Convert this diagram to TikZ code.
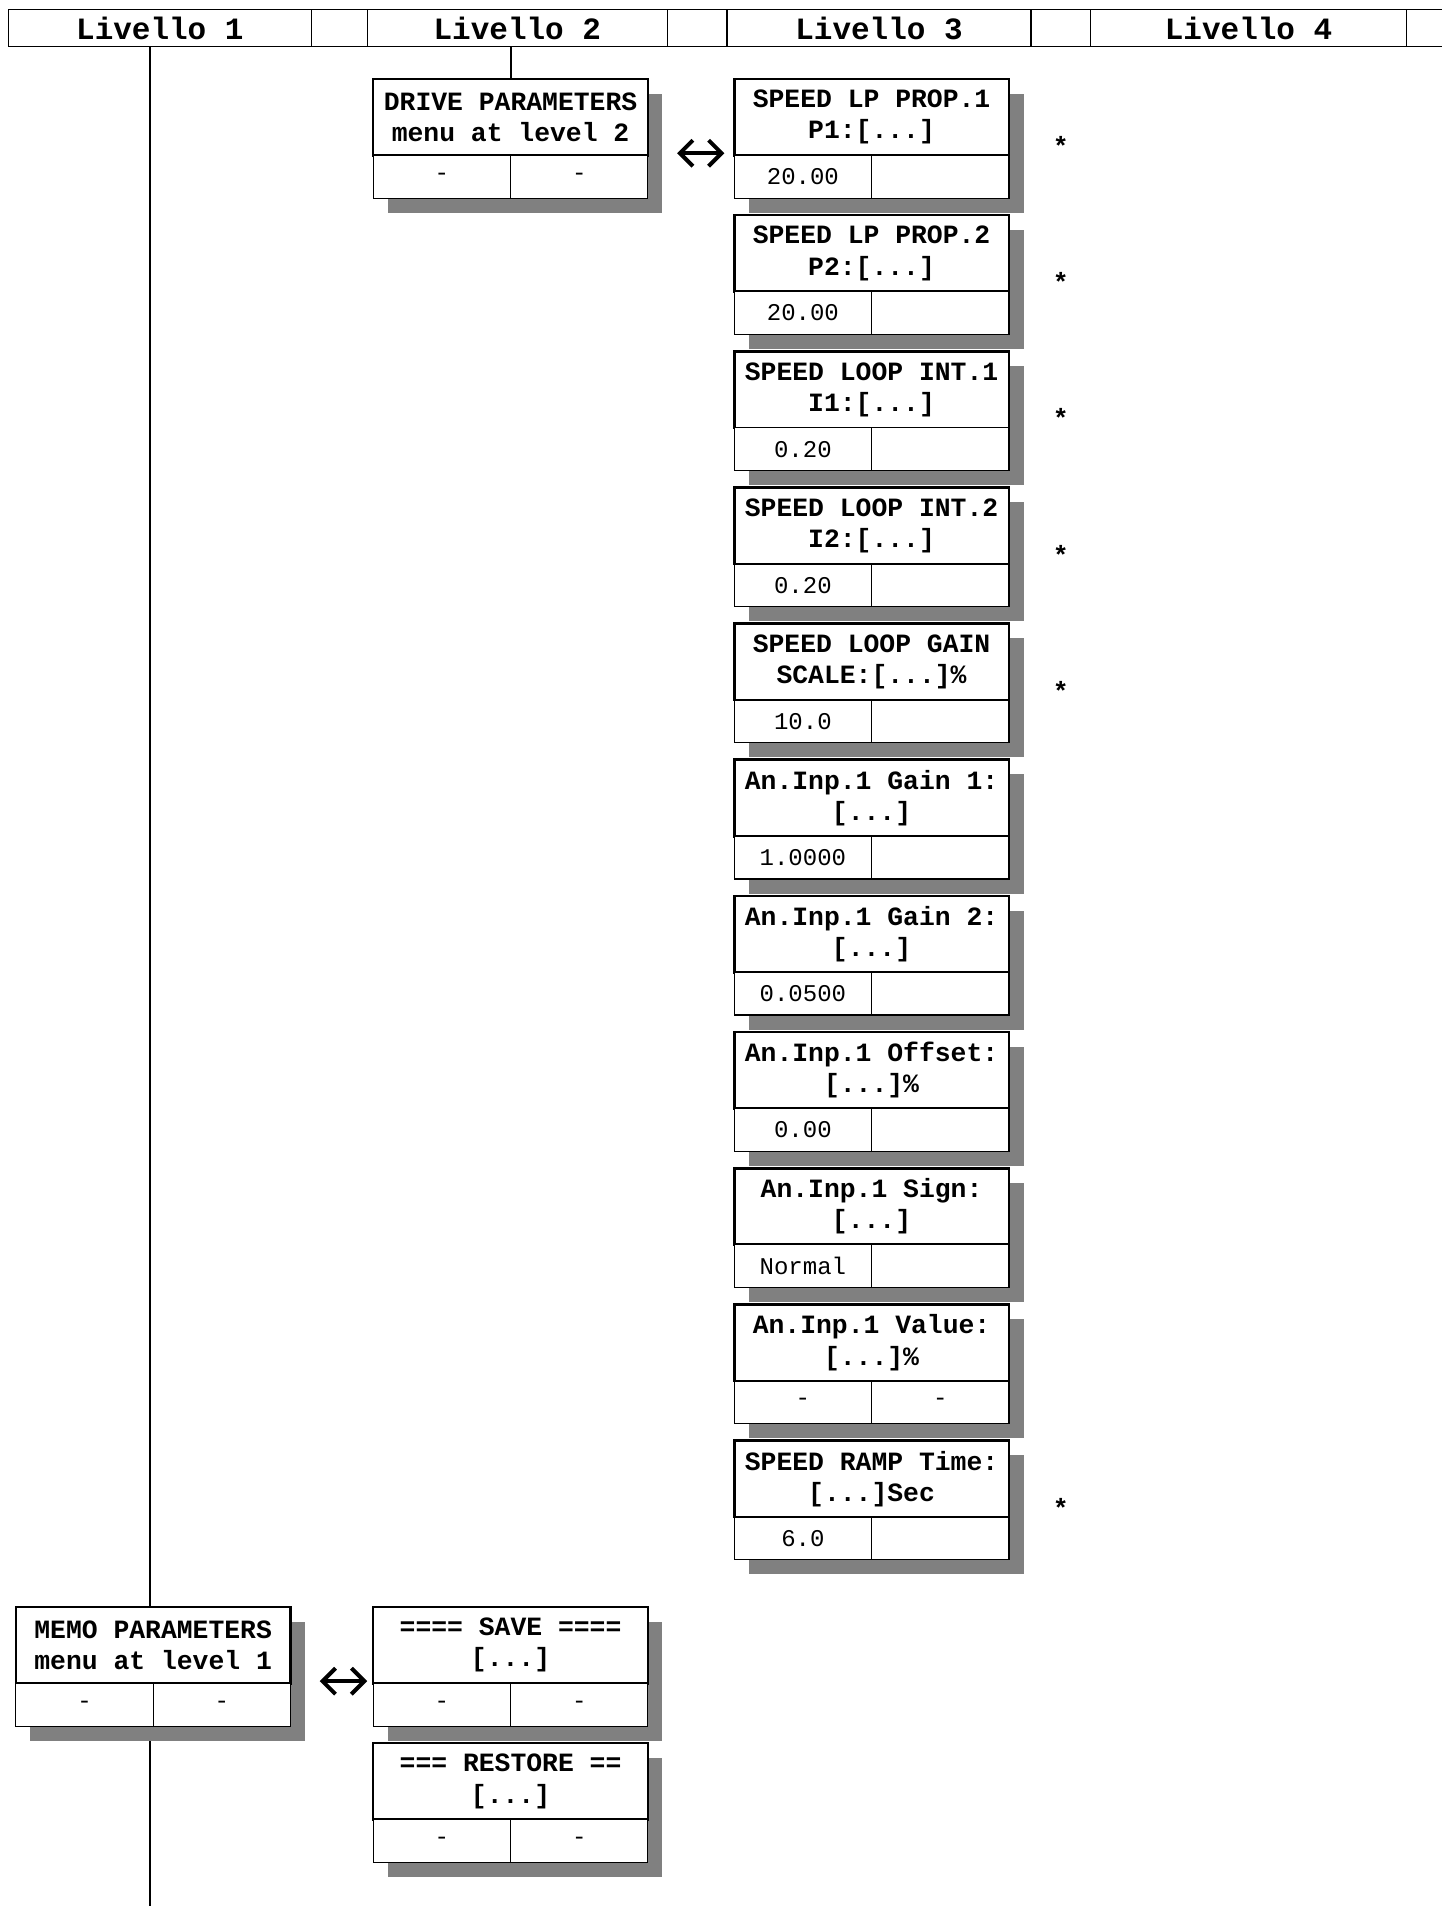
\documentclass[tikz,border=0pt]{standalone}
\usepackage{fontspec}
\setmonofont{Liberation Mono}
\usetikzlibrary{positioning, shadows, arrows.meta, backgrounds}

\begin{document}
\begin{tikzpicture}[x=0.608pt, y=0.608pt,
    head/.style={draw, line width=0.6pt, minimum height=18.5pt, inner sep=0pt, outer sep=0pt, anchor=north west, font=\ttfamily\bfseries\fontsize{15.5}{18}\selectfont},
    boxshadow/.style={drop shadow={shadow xshift=7.3pt, shadow yshift=-7.3pt, fill=black!50, opacity=1}},
    menutitle/.style={draw, line width=1.3pt, fill=white, minimum width=137.4pt, minimum height=38.3pt, inner sep=0pt, outer sep=0pt, align=center, font=\ttfamily\bfseries\fontsize{13.2}{15.6}\selectfont, boxshadow},
    menucell/.style={draw, line width=0.6pt, fill=white, minimum width=68.7pt, minimum height=21.3pt, inner sep=0pt, outer sep=0pt, font=\ttfamily\fontsize{12}{14}\selectfont, boxshadow},
    starnote/.style={font=\ttfamily\bfseries\fontsize{13.2}{15.6}\selectfont, inner sep=0pt},
    link/.style={{Straight Barb[length=6.5pt,width=13pt]}-{Straight Barb[length=6.5pt,width=13pt]}, line width=2pt},
    levelline/.style={line width=1pt}]

\useasboundingbox (0,0) rectangle (1186,-1568);

%intestazione
\node (hdr1) [head, minimum width=151.4pt] at (7,-8) {Livello 1};
\node (gap1) [head, minimum width=28pt, right=0pt of hdr1] {};
\node (hdr2) [head, minimum width=150.2pt, right=0pt of gap1] {Livello 2};
\node (gap2) [head, minimum width=29.8pt, right=0pt of hdr2] {};
\node (hdr3) [head, minimum width=152pt, right=0pt of gap2] {Livello 3};
\node (gap3) [head, minimum width=29.8pt, right=0pt of hdr3] {};
\node (hdr4) [head, minimum width=158.1pt, right=0pt of gap3] {Livello 4};
\node (gap4) [head, minimum width=30pt, right=0pt of hdr4] {};

%livello 1
\node (memo) [menutitle, anchor=north west] at (13,-1322) {MEMO PARAMETERS\\menu at level 1};
\node (memov) [menucell, below=0pt of memo.south west, anchor=north west] {-};
\node (memow) [menucell, right=0pt of memov] {-};

%livello 2
\node (drive) [menutitle, anchor=north west] at (307,-65) {DRIVE PARAMETERS\\menu at level 2};
\node (drivev) [menucell, below=0pt of drive.south west, anchor=north west] {-};
\node (drivew) [menucell, right=0pt of drivev] {-};

\node (save) [menutitle, anchor=north west] at (307,-1322) {==== SAVE ====\\{[...]}};
\node (savev) [menucell, below=0pt of save.south west, anchor=north west] {-};
\node (savew) [menucell, right=0pt of savev] {-};

\node (rest) [menutitle, below=8.5pt of savev.south west, anchor=north west] {=== RESTORE ==\\{[...]}};
\node (restv) [menucell, below=0pt of rest.south west, anchor=north west] {-};
\node (restw) [menucell, right=0pt of restv] {-};

%livello 3
\node (p1) [menutitle, anchor=north west] at (604,-65) {SPEED LP PROP.1\\P1:[...]};
\node (p1v) [menucell, below=0pt of p1.south west, anchor=north west] {20.00};
\node (p1w) [menucell, right=0pt of p1v] {};

\node (p2) [menutitle, below=8.5pt of p1v.south west, anchor=north west] {SPEED LP PROP.2\\P2:[...]};
\node (p2v) [menucell, below=0pt of p2.south west, anchor=north west] {20.00};
\node (p2w) [menucell, right=0pt of p2v] {};

\node (p3) [menutitle, below=8.5pt of p2v.south west, anchor=north west] {SPEED LOOP INT.1\\I1:[...]};
\node (p3v) [menucell, below=0pt of p3.south west, anchor=north west] {0.20};
\node (p3w) [menucell, right=0pt of p3v] {};

\node (p4) [menutitle, below=8.5pt of p3v.south west, anchor=north west] {SPEED LOOP INT.2\\I2:[...]};
\node (p4v) [menucell, below=0pt of p4.south west, anchor=north west] {0.20};
\node (p4w) [menucell, right=0pt of p4v] {};

\node (p5) [menutitle, below=8.5pt of p4v.south west, anchor=north west] {SPEED LOOP GAIN\\SCALE:[...]\%};
\node (p5v) [menucell, below=0pt of p5.south west, anchor=north west] {10.0};
\node (p5w) [menucell, right=0pt of p5v] {};

\node (p6) [menutitle, below=8.5pt of p5v.south west, anchor=north west] {An.Inp.1 Gain 1:\\{[...]}};
\node (p6v) [menucell, below=0pt of p6.south west, anchor=north west] {1.0000};
\node (p6w) [menucell, right=0pt of p6v] {};

\node (p7) [menutitle, below=8.5pt of p6v.south west, anchor=north west] {An.Inp.1 Gain 2:\\{[...]}};
\node (p7v) [menucell, below=0pt of p7.south west, anchor=north west] {0.0500};
\node (p7w) [menucell, right=0pt of p7v] {};

\node (p8) [menutitle, below=8.5pt of p7v.south west, anchor=north west] {An.Inp.1 Offset:\\{[...]\%}};
\node (p8v) [menucell, below=0pt of p8.south west, anchor=north west] {0.00};
\node (p8w) [menucell, right=0pt of p8v] {};

\node (p9) [menutitle, below=8.5pt of p8v.south west, anchor=north west] {An.Inp.1 Sign:\\{[...]}};
\node (p9v) [menucell, below=0pt of p9.south west, anchor=north west] {Normal};
\node (p9w) [menucell, right=0pt of p9v] {};

\node (p10) [menutitle, below=8.5pt of p9v.south west, anchor=north west] {An.Inp.1 Value:\\{[...]\%}};
\node (p10v) [menucell, below=0pt of p10.south west, anchor=north west] {-};
\node (p10w) [menucell, right=0pt of p10v] {-};

\node (p11) [menutitle, below=8.5pt of p10v.south west, anchor=north west] {SPEED RAMP Time:\\{[...]Sec}};
\node (p11v) [menucell, below=0pt of p11.south west, anchor=north west] {6.0};
\node (p11w) [menucell, right=0pt of p11v] {};

%asterischi
\node (s1) [starnote, right=25.9pt of p1.south east, anchor=base] {*};
\node (s2) [starnote, right=25.9pt of p2.south east, anchor=base] {*};
\node (s3) [starnote, right=25.9pt of p3.south east, anchor=base] {*};
\node (s4) [starnote, right=25.9pt of p4.south east, anchor=base] {*};
\node (s5) [starnote, right=25.9pt of p5.south east, anchor=base] {*};
\node (s11) [starnote, right=25.9pt of p11.south east, anchor=base] {*};

%frecce tra i livelli
\draw[link, shorten <=14.6pt, shorten >=4.9pt] ([yshift=1.2pt]drive.south east) -- ([yshift=1.2pt]p1.south west);
\draw[link, shorten <=14.6pt, shorten >=3pt] ([yshift=1.2pt]memo.south east) -- ([yshift=1.2pt]save.south west);

%linee verticali
\coordinate (bottom) at (0,-1575);
\begin{scope}[on background layer]
    \draw[levelline] ([xshift=-1.5pt]hdr1.south -| memo.north) -- ([xshift=-1.5pt]memo.north |- bottom);
    \draw[levelline] (hdr2.south -| drive.north) -- (drive.north);
\end{scope}

\end{tikzpicture}
\end{document}
